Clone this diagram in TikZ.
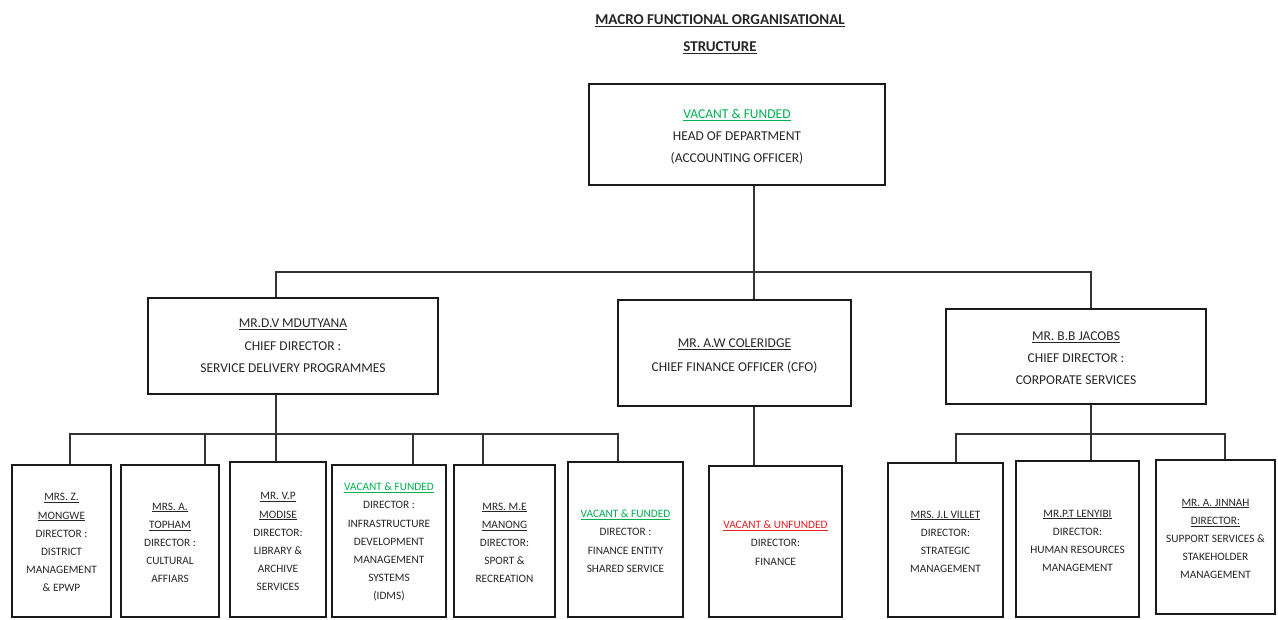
\documentclass[tikz,border=0pt]{standalone}
\usepackage{fontspec}
\setmainfont{Carlito}
\definecolor{vgreen}{HTML}{00B050}
\definecolor{vred}{HTML}{EE1C25}
\definecolor{txt}{HTML}{262626}
\definecolor{edge}{HTML}{1A1A1A}
\newcommand{\nm}[1]{\underline{#1}}
\newcommand{\vacf}[1]{\textcolor{vgreen}{\underline{#1}}}
\newcommand{\vacu}[1]{\textcolor{vred}{\underline{#1}}}
\newcommand{\upstrut}[1]{\rule{0pt}{#1}}
\tikzset{
  box/.style={draw=edge, line width=2.2pt, rectangle, inner sep=0pt, align=center, text=txt},
  bigbox/.style={box, font=\fontsize{13.5}{22.5}\selectfont},
  smallbox/.style={box, font=\fontsize{11.3}{18.2}\selectfont},
  conn/.style={draw=black!80, line width=1.3pt},
  titletext/.style={align=center, text=txt, font=\fontsize{15}{27}\selectfont\bfseries, inner sep=0pt}
}
\begin{document}
\begin{tikzpicture}[x=1pt,y=-1pt]
\useasboundingbox (0,0) rectangle (1278,619);
% title
\node[titletext] (title) at (720,34) {\nm{MACRO FUNCTIONAL ORGANISATIONAL}\\\nm{STRUCTURE}};
% top
\node[bigbox, minimum width=296pt, minimum height=101pt, font=\fontsize{13.5}{22}\selectfont] (top) at (737,134.5)
  {\upstrut{14pt}\vacf{VACANT \& FUNDED}\\HEAD OF DEPARTMENT\\(ACCOUNTING OFFICER)};
% middle
\node[bigbox, minimum width=290pt, minimum height=96pt] (ml) at (293,346)
  {\nm{MR.D.V MDUTYANA}\\CHIEF DIRECTOR :\\SERVICE DELIVERY PROGRAMMES};
\node[bigbox, minimum width=233pt, minimum height=106pt, font=\fontsize{13.5}{23.5}\selectfont] (cfo) at (734.5,353)
  {\upstrut{15pt}\nm{MR. A.W COLERIDGE}\\CHIEF FINANCE OFFICER (CFO)};
\node[bigbox, minimum width=260pt, minimum height=95pt, font=\fontsize{13.5}{22}\selectfont] (mr) at (1076,356.5)
  {\upstrut{13pt}\nm{MR. B.B JACOBS}\\CHIEF DIRECTOR :\\CORPORATE SERVICES};
% bottom
\node[smallbox, minimum width=99pt, minimum height=152pt] (b1) at (61.5,541)
  {\upstrut{11pt}\nm{MRS. Z.}\\\nm{MONGWE}\\DIRECTOR :\\DISTRICT\\MANAGEMENT\\\& EPWP};
\node[smallbox, minimum width=98pt, minimum height=152pt] (b2) at (170,541)
  {\upstrut{11pt}\nm{MRS. A.}\\\nm{TOPHAM}\\DIRECTOR :\\CULTURAL\\AFFIARS};
\node[smallbox, minimum width=96pt, minimum height=155pt] (b3) at (278,539.5)
  {\upstrut{12pt}\nm{MR. V.P}\\\nm{MODISE}\\DIRECTOR:\\LIBRARY \&\\ARCHIVE\\SERVICES};
\node[smallbox, minimum width=114pt, minimum height=152pt] (b4) at (389,541)
  {\upstrut{10pt}\vacf{VACANT \& FUNDED}\\DIRECTOR :\\INFRASTRUCTURE\\DEVELOPMENT\\MANAGEMENT\\SYSTEMS\\(IDMS)};
\node[smallbox, minimum width=101pt, minimum height=152pt] (b5) at (504.5,541)
  {\upstrut{11pt}\nm{MRS. M.E}\\\nm{MANONG}\\DIRECTOR:\\SPORT \&\\RECREATION};
\node[smallbox, minimum width=115pt, minimum height=155pt] (b6) at (625.5,539.5)
  {\upstrut{11pt}\vacf{VACANT \& FUNDED}\\DIRECTOR :\\FINANCE ENTITY\\SHARED SERVICE};
\node[smallbox, minimum width=133pt, minimum height=151pt] (b7) at (775.5,541.5)
  {\upstrut{11pt}\vacu{VACANT \& UNFUNDED}\\DIRECTOR:\\FINANCE};
\node[smallbox, minimum width=115pt, minimum height=154pt] (b8) at (945.5,540)
  {\upstrut{11pt}\nm{MRS. J.L VILLET}\\DIRECTOR:\\STRATEGIC\\MANAGEMENT};
\node[smallbox, minimum width=123pt, minimum height=156pt] (b9) at (1077.5,539)
  {\upstrut{11pt}\nm{MR.P.T LENYIBI}\\DIRECTOR:\\HUMAN RESOURCES\\MANAGEMENT};
\node[smallbox, minimum width=119pt, minimum height=154pt] (b10) at (1215.5,537)
  {\upstrut{11pt}\nm{MR. A. JINNAH}\\\nm{DIRECTOR:}\\SUPPORT SERVICES \&\\STAKEHOLDER\\MANAGEMENT};
% junctions
\coordinate (J) at (754,272);
\coordinate (Lx) at (276,272);
\coordinate (Rx) at (1091,272);
\coordinate (LB) at (276,434);
\coordinate (RB) at (1091,434);
% connectors level 1
\draw[conn] (top.south -| J) -- (cfo.north -| J);
\draw[conn] (ml.north -| Lx) |- (J) -| (mr.north -| Rx);
% left group
\draw[conn] (ml.south -| LB) -- (b3.north -| LB);
\draw[conn] ([xshift=8.5pt]b1.north) |- (LB);
\draw[conn] ([xshift=35pt]b2.north) |- (LB);
\draw[conn] ([xshift=24pt]b4.north) |- (LB);
\draw[conn] ([xshift=-21.5pt]b5.north) |- (LB);
\draw[conn] ([xshift=-7.5pt]b6.north) |- (LB);
% CFO
\draw[conn] (cfo.south -| J) -- (b7.north -| J);
% right group
\draw[conn] (mr.south -| RB) -- (RB);
\draw[conn] ([xshift=10.5pt]b8.north) |- (RB);
\draw[conn] (b9.north -| RB) -- (RB);
\draw[conn] ([xshift=9.5pt]b10.north) |- (RB);
\end{tikzpicture}
\end{document}
